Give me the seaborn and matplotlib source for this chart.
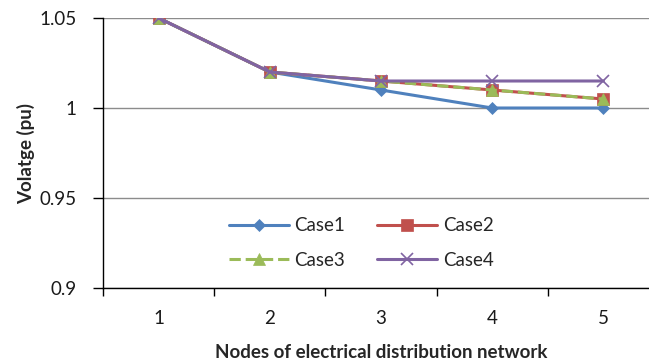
import matplotlib
matplotlib.use("Agg")
import matplotlib.pyplot as plt
import seaborn as sns
import numpy as np
from matplotlib.ticker import FixedLocator, NullFormatter, FixedFormatter

nodes = [1, 2, 3, 4, 5]
node_labels = ["1", "2", "3", "4", "5"]
case1 = [1.05, 1.02, 1.01, 1.0, 1.0]
case2 = [1.05, 1.02, 1.015, 1.01, 1.005]
case3 = [1.05, 1.02, 1.015, 1.01, 1.005]
case4 = [1.05, 1.02, 1.015, 1.015, 1.015]
yticks = [0.9, 0.95, 1.0, 1.05]
ytick_labels = ["0.9", "0.95", "1", "1.05"]

sns.set_style("white")
plt.rcParams['font.family'] = ['Lato', 'DejaVu Sans']

fig = plt.figure(figsize=(6.49, 3.62), dpi=100)
W, H = 649, 362
left, right, top, bottom = 103, 659, 18, 288
ax = fig.add_axes([left / W, 1 - bottom / H, (right - left) / W, (bottom - top) / H])

series = [
    ("Case1", case1, "#4F81BD", "D", 6.5, "-"),
    ("Case2", case2, "#C0504D", "s", 8, "-"),
    ("Case3", case3, "#9BBB59", "^", 8, "--"),
    ("Case4", case4, "#8064A2", "x", 9, "-"),
]
for name, vals, col, mk, ms, ls in series:
    sns.lineplot(x=nodes, y=vals, ax=ax, color=col, marker=mk, markersize=ms,
                 linestyle=ls, linewidth=2.2, label=name,
                 markeredgecolor=col, markeredgewidth=1.2 if mk == "x" else 0.5)

ax.set_xlim(0.5, 5.5)
ax.set_ylim(0.9, 1.05)
ax.set_yticks(yticks)
ax.set_yticklabels(ytick_labels)
ax.yaxis.grid(True, color="#8c8c8c", linewidth=1)
ax.xaxis.grid(False)

ax.xaxis.set_major_locator(FixedLocator([0.5, 1.5, 2.5, 3.5, 4.5, 5.5]))
ax.xaxis.set_major_formatter(NullFormatter())
ax.xaxis.set_minor_locator(FixedLocator(nodes))
ax.xaxis.set_minor_formatter(FixedFormatter(node_labels))
ax.tick_params(axis="x", which="major", direction="out", length=6, width=1, color="black", bottom=True)
ax.tick_params(axis="x", which="minor", length=0, pad=16, labelsize=13.5, labelcolor="#1a1a1a")
ax.tick_params(axis="y", direction="out", length=7, width=1, color="black", left=True, labelsize=13.5,
               labelcolor="#1a1a1a", pad=12)

for s in ["top", "right"]:
    ax.spines[s].set_visible(False)
for s in ["left", "bottom"]:
    ax.spines[s].set_color("black")
    ax.spines[s].set_linewidth(1)

ax.set_xlabel("Nodes of electrical distribution network", fontsize=13.5, fontweight="bold", labelpad=12)
ax.set_ylabel("Volatge (pu)", fontsize=13.5, fontweight="bold", labelpad=3)

h, l = ax.get_legend_handles_labels()
order = [0, 2, 1, 3]
leg = ax.legend([h[i] for i in order], [l[i] for i in order], ncol=2, frameon=False, loc="center",
                bbox_to_anchor=((361 - left) / (right - left), 1 - (243 - top) / (bottom - top)),
                fontsize=13.5, handlelength=3.2, columnspacing=1.7, labelspacing=0.95, handletextpad=0.3)

fig.savefig("out.png", dpi=100)
